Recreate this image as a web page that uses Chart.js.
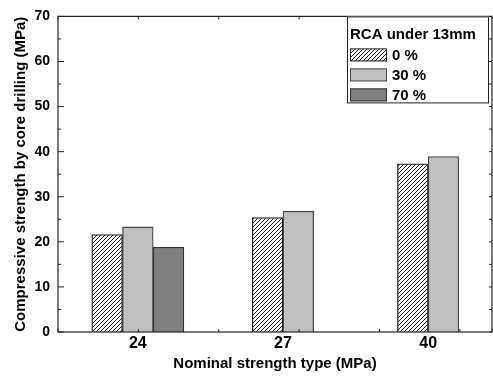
<!DOCTYPE html>
<html>
<head>
<meta charset="utf-8">
<script src="https://cdn.jsdelivr.net/npm/chart.js@4.4.0/dist/chart.umd.min.js"></script>
<style>
  html, body { margin: 0; padding: 0; background: #fff; }
</style>
</head>
<body>
<canvas id="chart" width="493" height="378"></canvas>
<script>
// data
const categories = ["24", "27", "40"];
const seriesNames = ["0 %", "30 %", "70 %"];
const rca0 = [21.6, 25.4, 37.3];
const rca30 = [23.3, 26.8, 38.9];
const rca70 = [18.8, null, null];
const yTicks = [0, 10, 20, 30, 40, 50, 60, 70];
const legendTitle = "RCA under 13mm";
const xTitle = "Nominal strength type (MPa)";
const yTitle = "Compressive strength by core drilling (MPa)";

const FONT = "'Liberation Sans', Arial, sans-serif";
const canvas = document.getElementById("chart");
const ctx = canvas.getContext("2d");

// white with "/" hatch lines
function makeHatch() {
  const c = document.createElement("canvas");
  c.width = 4;
  c.height = 4;
  const g = c.getContext("2d");
  g.fillStyle = "#fff";
  g.fillRect(0, 0, 4, 4);
  g.fillStyle = "#222";
  for (let i = 0; i < 4; i++) g.fillRect(i, 3 - i, 1, 1);
  return ctx.createPattern(c, "repeat");
}
const hatch = makeHatch();

const toPoints = (vals) => categories.map((c, i) => ({ x: i, y: vals[i] }));

// frame with inward tick marks
const frame = {
  id: "frame",
  afterDatasetsDraw(chart) {
    const { ctx, chartArea: a, scales } = chart;
    ctx.save();
    ctx.strokeStyle = "#222";
    ctx.lineWidth = 1.2;
    ctx.strokeRect(a.left, a.top, a.right - a.left, a.bottom - a.top);
    ctx.lineWidth = 1;
    ctx.beginPath();
    const y = scales.y;
    for (let i = 0; i < yTicks.length; i++) {
      const p = y.getPixelForValue(yTicks[i]);
      ctx.moveTo(a.left, p); ctx.lineTo(a.left + 6, p);
      ctx.moveTo(a.right, p); ctx.lineTo(a.right - 3, p);
      if (i < yTicks.length - 1) {
        const m = y.getPixelForValue((yTicks[i] + yTicks[i + 1]) / 2);
        ctx.moveTo(a.left, m); ctx.lineTo(a.left + 3, m);
        ctx.moveTo(a.right, m); ctx.lineTo(a.right - 3, m);
      }
    }
    const x2 = scales.x2;
    x2.ticks.forEach((t) => {
      const p = x2.getPixelForValue(t.value);
      ctx.moveTo(p, a.top); ctx.lineTo(p, a.top + 3);
      ctx.moveTo(p, a.bottom); ctx.lineTo(p, a.bottom - 3);
    });
    ctx.stroke();
    ctx.restore();
  }
};

// boxed legend inside the top right corner
const boxLegend = {
  id: "boxLegend",
  afterDraw(chart) {
    const { ctx, chartArea: a } = chart;
    const w = 142, h = 87;
    const x0 = a.right - 3 - w, y0 = a.top;
    ctx.save();
    ctx.fillStyle = "#fff";
    ctx.fillRect(x0, y0, w, h);
    ctx.strokeStyle = "#222";
    ctx.lineWidth = 1;
    ctx.strokeRect(x0 + 0.5, y0 + 0.5, w - 1, h - 1);
    ctx.font = "bold 15px " + FONT;
    ctx.fillStyle = "#000";
    ctx.textBaseline = "middle";
    ctx.fillText(legendTitle, x0 + 3, y0 + 18);
    chart.data.datasets.forEach((ds, i) => {
      const sy = y0 + 32 + i * 20;
      ctx.fillStyle = ds.backgroundColor;
      ctx.fillRect(x0 + 3, sy, 37, 13);
      ctx.strokeStyle = ds.borderColor;
      ctx.strokeRect(x0 + 3.5, sy + 0.5, 36, 12);
      ctx.fillStyle = "#000";
      ctx.fillText(ds.label, x0 + 45, sy + 7);
    });
    ctx.restore();
  }
};

new Chart(ctx, {
  type: "bar",
  data: {
    datasets: [
      { label: seriesNames[0], data: toPoints(rca0), backgroundColor: hatch, borderColor: "#222" },
      { label: seriesNames[1], data: toPoints(rca30), backgroundColor: "#c0c0c0", borderColor: "#4a4a4a" },
      { label: seriesNames[2], data: toPoints(rca70), backgroundColor: "#808080", borderColor: "#333" }
    ]
  },
  options: {
    responsive: false,
    animation: false,
    datasets: {
      bar: { barThickness: 30.7, skipNull: true, borderWidth: 1.3 }
    },
    layout: { padding: { top: 13, right: 1, left: 0, bottom: 0 } },
    plugins: {
      legend: { display: false },
      tooltip: { enabled: false }
    },
    scales: {
      x: {
        type: "linear",
        offset: false,
        min: -0.55,
        max: 2.44,
        grid: { display: false, drawTicks: false },
        border: { display: false },
        afterBuildTicks: (s) => { s.ticks = categories.map((c, i) => ({ value: i })); },
        ticks: {
          callback: (v) => categories[v],
          font: { family: FONT, size: 16, weight: "bold" },
          color: "#000",
          padding: 2,
          maxRotation: 0,
          autoSkip: false
        },
        title: {
          display: true,
          text: xTitle,
          font: { family: FONT, size: 15, weight: "bold" },
          color: "#000",
          padding: { top: 0, bottom: 5 }
        },
        afterFit: (s) => { s.height = 46; }
      },
      x2: {
        type: "linear",
        position: "bottom",
        display: false,
        offset: false,
        min: 0,
        max: 5.4,
        ticks: { stepSize: 1 }
      },
      y: {
        min: 0,
        max: 70,
        afterBuildTicks: (s) => { s.ticks = yTicks.map((v) => ({ value: v })); },
        grid: { display: false, drawTicks: false },
        border: { display: false },
        ticks: {
          font: { family: FONT, size: 14, weight: "bold" },
          color: "#000",
          padding: 8
        },
        title: {
          display: true,
          text: yTitle,
          font: { family: FONT, size: 15, weight: "bold" },
          color: "#000",
          padding: { top: 12, bottom: 0 }
        },
        afterFit: (s) => { s.width = 58; }
      }
    }
  },
  plugins: [frame, boxLegend]
});
</script>
</body>
</html>
